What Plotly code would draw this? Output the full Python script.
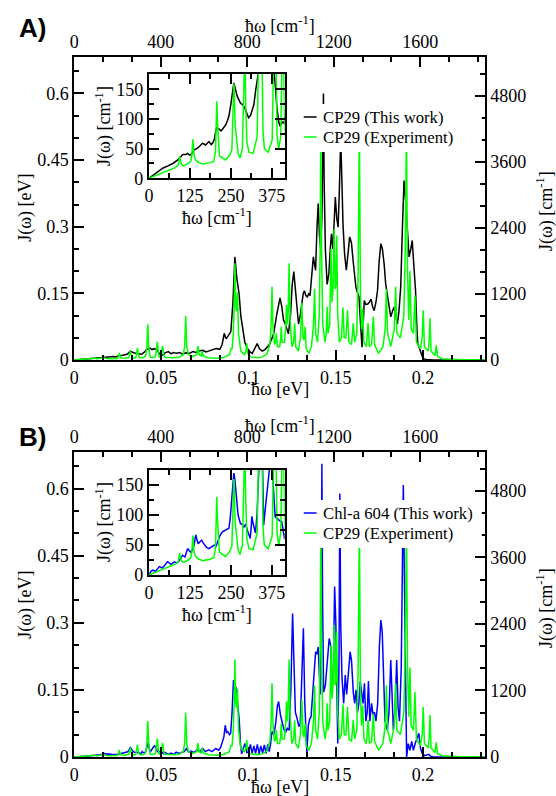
import plotly.graph_objects as go

EV2CM = 8065.54
W, H = 556, 796          # reference frame (pixel positions below are in this frame)
PAGE_H = 806             # figure height on the page (the photo squeezes it to 796)

# ---------------- data ----------------
# low-frequency part (x, y in cm^-1)
exp_low_cm = [(0,0),(40,9),(80,18),(89,22),(92,30),(94,37),(96,30),(100,23),(106,21),(120,25),(128,29),(131,40),(133,58),(134,66),(135,58),(138,38),(142,31),(150,27),(164,24),(185,26),(198,29),(203,45),(205,95),(207,130),(209,95),(212,50),(215,38),(233,31),(245,38),(253,48),(256,100),(258,150),(259,160),(260,150),(263,90),(268,59),(272,42),(278,34),(285,50),(289,140),(291,200),(292,218),(293,200),(295,130),(299,60),(305,44),(318,42),(330,70),(336,250),(339,600),(340,650),(341,600),(344,250),(348,80),(352,50),(364,44),(376,65),(381,230),(383,320),(384,331),(385,320),(387,230),(391,70),(396,50),(402,70),(406,200),(407,240),(408,250),(409,240),(411,200),(414,90)]
cp29_low_cm = [(0,0),(15,6),(30,12),(42,17),(58,21),(73,25),(88,31),(103,40),(113,40),(118,42),(124,39),(130,41),(138,48),(148,51),(156,55),(163,59),(168,58),(173,56),(183,62),(190,57),(195,60),(199,65),(204,80),(207,85),(214,83),(220,80),(226,84),(234,90),(240,98),(244,105),(250,125),(254,145),(259,161),(264,150),(269,139),(279,127),(286,124),(292,119),(298,110),(304,102),(310,106),(314,112),(320,124),(326,150),(333,185),(340,200),(350,215),(360,190),(368,205),(378,200),(385,160),(390,122),(396,95),(400,88),(407,95),(413,93)]
chla_low_cm = [(0,0),(6,6),(12,8),(20,6),(27,11),(32,14),(40,12),(45,14),(52,19),(57,22),(62,20),(67,18),(72,20),(78,22),(84,20),(90,22),(97,28),(103,33),(110,30),(114,38),(118,44),(123,41),(128,38),(133,42),(138,50),(141,62),(143,67),(146,60),(150,52),(155,55),(161,58),(165,54),(170,50),(176,46),(183,44),(190,47),(199,50),(205,48),(210,55),(216,65),(224,72),(230,74),(234,75),(240,77),(244,78),(248,95),(252,120),(256,150),(259,170),(262,160),(265,140),(268,115),(272,100),(279,86),(285,84),(290,80),(295,85),(300,75),(305,68),(309,61),(312,80),(314,98),(317,88),(320,80),(325,70),(330,103),(334,140),(338,200),(342,270),(346,200),(350,83),(353,100),(356,120),(360,150),(363,170),(367,185),(372,200),(376,180),(380,150),(385,97),(390,95),(395,92),(400,90),(405,89),(410,70),(414,60)]
# higher-frequency part (x, y in eV)
exp_hi_ev = [(0.0520,0.0060),(0.0560,0.0050),(0.0600,0.0060),(0.0625,0.012),(0.0633,0.030),(0.0639,0.099),(0.0645,0.030),(0.0655,0.012),(0.0680,0.008),(0.0702,0.012),(0.0709,0.031),(0.0716,0.012),(0.0728,0.009),(0.0734,0.020),(0.0740,0.009),(0.0770,0.005),(0.0820,0.004),(0.0860,0.006),(0.0890,0.012),(0.0898,0.025),(0.0905,0.025),(0.0912,0.060),(0.0917,0.120),(0.0921,0.218),(0.0926,0.120),(0.0931,0.110),(0.0936,0.153),(0.0942,0.060),(0.0955,0.020),(0.0975,0.012),(0.0984,0.018),(0.0989,0.038),(0.0995,0.015),(0.1010,0.007),(0.1050,0.005),(0.1080,0.007),(0.1105,0.014),(0.1122,0.035),(0.1129,0.080),(0.1134,0.165),(0.1139,0.080),(0.1148,0.035),(0.1154,0.040),(0.1159,0.060),(0.1165,0.030),(0.1178,0.030),(0.1183,0.045),(0.1187,0.075),(0.1192,0.040),(0.1205,0.040),(0.1212,0.070),(0.1217,0.124),(0.1222,0.080),(0.1227,0.110),(0.1232,0.218),(0.1238,0.090),(0.1248,0.030),(0.1258,0.040),(0.1264,0.082),(0.1270,0.030),(0.1285,0.020),(0.1297,0.050),(0.1305,0.129),(0.1312,0.050),(0.1318,0.045),(0.1324,0.075),(0.1330,0.025),(0.1345,0.015),(0.1360,0.030),(0.1372,0.080),(0.1378,0.160),(0.1384,0.060),(0.1395,0.040),(0.1405,0.100),(0.1410,0.250),(0.1414,0.530),(0.1418,0.250),(0.1425,0.080),(0.1438,0.040),(0.1445,0.060),(0.1450,0.120),(0.1455,0.060),(0.1465,0.080),(0.1472,0.250),(0.1478,0.130),(0.1484,0.160),(0.1490,0.295),(0.1496,0.160),(0.1500,0.170),(0.1505,0.280),(0.1511,0.100),(0.1520,0.040),(0.1532,0.050),(0.1541,0.118),(0.1548,0.050),(0.1558,0.050),(0.1567,0.112),(0.1575,0.040),(0.1590,0.035),(0.1600,0.083),(0.1608,0.040),(0.1620,0.060),(0.1628,0.200),(0.1635,0.530),(0.1641,0.150),(0.1647,0.070),(0.1654,0.115),(0.1661,0.040),(0.1675,0.030),(0.1685,0.083),(0.1692,0.030),(0.1705,0.035),(0.1715,0.097),(0.1722,0.035),(0.1745,0.015),(0.1770,0.030),(0.1783,0.070),(0.1790,0.160),(0.1797,0.060),(0.1815,0.030),(0.1835,0.070),(0.1843,0.165),(0.1850,0.060),(0.1870,0.050),(0.1890,0.100),(0.1898,0.250),(0.1905,0.530),(0.1911,0.200),(0.1918,0.090),(0.1925,0.200),(0.1932,0.070),(0.1945,0.060),(0.1954,0.145),(0.1962,0.040),(0.1985,0.025),(0.1995,0.050),(0.2001,0.112),(0.2008,0.030),(0.2030,0.020),(0.2036,0.050),(0.2040,0.094),(0.2046,0.020),(0.2068,0.010),(0.2076,0.033),(0.2083,0.008),(0.2110,0.003),(0.2200,0.001),(0.2354,0.0)]
cp29_hi_ev = [(0.0520,0.016),(0.0540,0.019),(0.0555,0.014),(0.0570,0.017),(0.0586,0.015),(0.0605,0.017),(0.0620,0.013),(0.0640,0.016),(0.0662,0.015),(0.0680,0.019),(0.0700,0.017),(0.0720,0.021),(0.0737,0.022),(0.0755,0.018),(0.0770,0.020),(0.0790,0.022),(0.0813,0.026),(0.0835,0.024),(0.0848,0.035),(0.0860,0.060),(0.0870,0.048),(0.0879,0.052),(0.0890,0.058),(0.0898,0.064),(0.0910,0.130),(0.0921,0.232),(0.0932,0.185),(0.0945,0.150),(0.0955,0.100),(0.0964,0.075),(0.0978,0.040),(0.0993,0.026),(0.1008,0.018),(0.1021,0.015),(0.1035,0.025),(0.1049,0.037),(0.1062,0.025),(0.1078,0.020),(0.1095,0.024),(0.1116,0.033),(0.1130,0.045),(0.1144,0.060),(0.1160,0.100),(0.1172,0.130),(0.1180,0.140),(0.1190,0.120),(0.1200,0.090),(0.1210,0.081),(0.1220,0.065),(0.1228,0.059),(0.1240,0.100),(0.1250,0.170),(0.1259,0.199),(0.1268,0.160),(0.1278,0.100),(0.1286,0.081),(0.1296,0.100),(0.1305,0.126),(0.1313,0.150),(0.1320,0.156),(0.1328,0.145),(0.1337,0.142),(0.1345,0.150),(0.1352,0.145),(0.1362,0.190),(0.1371,0.232),(0.1378,0.215),(0.1384,0.202),(0.1392,0.300),(0.1399,0.352),(0.1406,0.280),(0.1413,0.250),(0.1420,0.320),(0.1426,0.450),(0.1429,0.600),(0.1433,0.400),(0.1440,0.250),(0.1450,0.170),(0.1460,0.194),(0.1468,0.250),(0.1475,0.284),(0.1483,0.250),(0.1490,0.300),(0.1497,0.367),(0.1505,0.320),(0.1513,0.299),(0.1520,0.380),(0.1528,0.500),(0.1535,0.400),(0.1541,0.306),(0.1550,0.240),(0.1560,0.202),(0.1570,0.240),(0.1579,0.277),(0.1585,0.270),(0.1590,0.262),(0.1600,0.220),(0.1610,0.180),(0.1615,0.164),(0.1625,0.150),(0.1633,0.142),(0.1642,0.080),(0.1650,0.029),(0.1657,0.080),(0.1663,0.134),(0.1672,0.125),(0.1683,0.126),(0.1692,0.130),(0.1702,0.137),(0.1711,0.120),(0.1720,0.111),(0.1730,0.130),(0.1739,0.156),(0.1748,0.220),(0.1758,0.262),(0.1767,0.250),(0.1777,0.216),(0.1786,0.170),(0.1796,0.142),(0.1805,0.115),(0.1815,0.097),(0.1825,0.110),(0.1834,0.119),(0.1844,0.100),(0.1853,0.081),(0.1862,0.110),(0.1872,0.164),(0.1882,0.300),(0.1891,0.404),(0.1900,0.360),(0.1909,0.306),(0.1915,0.250),(0.1920,0.232),(0.1930,0.250),(0.1938,0.269),(0.1946,0.220),(0.1957,0.157),(0.1964,0.080),(0.1970,0.036),(0.1978,0.028),(0.1985,0.021),(0.1993,0.010),(0.2000,0.003),(0.2020,0.001),(0.2060,0.0),(0.2354,0.0)]
chla_hi_ev = [(0.0520,0.010),(0.0540,0.006),(0.0555,0.009),(0.0570,0.006),(0.0585,0.011),(0.0600,0.008),(0.0615,0.010),(0.0630,0.012),(0.0643,0.019),(0.0656,0.011),(0.0670,0.013),(0.0685,0.010),(0.0705,0.016),(0.0720,0.012),(0.0737,0.019),(0.0752,0.012),(0.0770,0.016),(0.0790,0.012),(0.0812,0.019),(0.0828,0.015),(0.0840,0.022),(0.0850,0.034),(0.0858,0.045),(0.0866,0.071),(0.0873,0.055),(0.0880,0.057),(0.0890,0.050),(0.0897,0.053),(0.0905,0.100),(0.0913,0.172),(0.0920,0.150),(0.0927,0.157),(0.0937,0.110),(0.0946,0.083),(0.0953,0.030),(0.0960,0.007),(0.0970,0.020),(0.0979,0.030),(0.0990,0.010),(0.1000,0.012),(0.1010,0.028),(0.1020,0.008),(0.1030,0.025),(0.1040,0.008),(0.1050,0.028),(0.1060,0.007),(0.1070,0.025),(0.1080,0.009),(0.1090,0.027),(0.1100,0.008),(0.1110,0.028),(0.1118,0.012),(0.1126,0.030),(0.1134,0.057),(0.1145,0.050),(0.1155,0.075),(0.1165,0.115),(0.1172,0.124),(0.1182,0.095),(0.1192,0.075),(0.1202,0.062),(0.1212,0.055),(0.1222,0.064),(0.1232,0.060),(0.1242,0.150),(0.1252,0.321),(0.1260,0.200),(0.1268,0.100),(0.1278,0.086),(0.1288,0.068),(0.1296,0.075),(0.1306,0.200),(0.1314,0.288),(0.1322,0.120),(0.1328,0.040),(0.1334,0.008),(0.1342,0.070),(0.1350,0.085),(0.1358,0.090),(0.1366,0.138),(0.1376,0.200),(0.1384,0.235),(0.1392,0.230),(0.1399,0.246),(0.1406,0.180),(0.1412,0.140),(0.1417,0.350),(0.1420,0.656),(0.1424,0.350),(0.1430,0.145),(0.1440,0.160),(0.1450,0.210),(0.1462,0.265),(0.1470,0.250),(0.1478,0.140),(0.1486,0.200),(0.1493,0.381),(0.1500,0.300),(0.1506,0.100),(0.1511,0.030),(0.1518,0.200),(0.1523,0.589),(0.1528,0.300),(0.1535,0.180),(0.1545,0.120),(0.1554,0.183),(0.1562,0.140),(0.1572,0.180),(0.1582,0.235),(0.1590,0.215),(0.1600,0.145),(0.1608,0.120),(0.1616,0.150),(0.1624,0.100),(0.1632,0.120),(0.1640,0.169),(0.1648,0.140),(0.1656,0.120),(0.1664,0.165),(0.1672,0.080),(0.1680,0.100),(0.1687,0.170),(0.1695,0.080),(0.1705,0.120),(0.1713,0.095),(0.1722,0.100),(0.1730,0.080),(0.1740,0.120),(0.1750,0.250),(0.1758,0.306),(0.1766,0.280),(0.1774,0.170),(0.1782,0.080),(0.1795,0.060),(0.1805,0.100),(0.1815,0.217),(0.1822,0.120),(0.1830,0.060),(0.1840,0.110),(0.1849,0.217),(0.1857,0.110),(0.1865,0.080),(0.1875,0.200),(0.1882,0.400),(0.1887,0.608),(0.1893,0.400),(0.1900,0.150),(0.1906,0.000),(0.1915,0.030),(0.1925,0.015),(0.1935,0.035),(0.1945,0.015),(0.1955,0.030),(0.1968,0.045),(0.1976,0.053),(0.1985,0.020),(0.1995,0.008),(0.2010,0.003),(0.2025,0.004),(0.2033,0.006),(0.2042,0.002),(0.2060,0.0),(0.2354,0.0)]

x_ev_ticks = [0, 0.05, 0.1, 0.15, 0.2]
y_ev_ticks = [0, 0.15, 0.3, 0.45, 0.6]
x_cm_ticks = [0, 400, 800, 1200, 1600]
y_cm_ticks = [0, 1200, 2400, 3600, 4800]
inset_x_ticks = [0, 125, 250, 375]
inset_y_ticks = [0, 50, 100, 150]

label_A1, label_A2 = "CP29 (This work)", "CP29 (Experiment)"
label_B1, label_B2 = "Chl-a 604 (This work)", "CP29 (Experiment)"

XMAX_EV, YMAX_EV = 0.2354, 0.682
INS_XMAX, INS_YMAX = 414, 176


def merge(low_cm, hi_ev):
    xs = [p[0] / EV2CM for p in low_cm] + [p[0] for p in hi_ev]
    ys = [p[1] / EV2CM for p in low_cm] + [p[1] for p in hi_ev]
    return xs, ys


exp_x, exp_y = merge(exp_low_cm, exp_hi_ev)
cp_x, cp_y = merge(cp29_low_cm, cp29_hi_ev)
ch_x, ch_y = merge(chla_low_cm, chla_hi_ev)

GREEN, BLACK, BLUE = "#00ff00", "#000000", "#0000ff"
SERIF = "Liberation Serif, Tinos, Times New Roman, DejaVu Serif, serif"
SANS = "Liberation Sans, Arimo, Arial, DejaVu Sans, sans-serif"
TF = dict(family=SERIF, size=18, color="black")


def hx(px):
    return px / W


def vy(py):
    return 1 - py / H


fig = go.Figure()


def line(x, y, color, xa, ya, scale=1.0):
    fig.add_trace(go.Scatter(x=[v * scale for v in x], y=[v * scale for v in y],
                             mode="lines", line=dict(color=color, width=1.5),
                             xaxis=xa, yaxis=ya, showlegend=False, hoverinfo="skip"))


def dummy(xa, ya):
    fig.add_trace(go.Scatter(x=[None], y=[None], xaxis=xa, yaxis=ya,
                             showlegend=False, hoverinfo="skip"))


# panel A
line(cp_x, cp_y, BLACK, "x", "y")
line(exp_x, exp_y, GREEN, "x", "y")
dummy("x2", "y2")
line(cp_x, cp_y, BLACK, "x3", "y3", EV2CM)
line(exp_x, exp_y, GREEN, "x3", "y3", EV2CM)
# panel B
line(ch_x, ch_y, BLUE, "x4", "y4")
line(exp_x, exp_y, GREEN, "x4", "y4")
dummy("x5", "y5")
line(ch_x, ch_y, BLUE, "x6", "y6", EV2CM)
line(exp_x, exp_y, GREEN, "x6", "y6", EV2CM)


def ax(domain, rng, tickvals, minor_dtick, **kw):
    d = dict(domain=domain, range=rng, tickmode="array", tickvals=tickvals,
             ticks="inside", ticklen=10, tickwidth=1.5, tickcolor="black",
             minor=dict(tickmode="linear", tick0=0, dtick=minor_dtick, ticks="inside",
                        ticklen=5, tickwidth=1.5, tickcolor="black", showgrid=False),
             showline=True, linewidth=2, linecolor="black", showgrid=False,
             zeroline=False, tickfont=TF, fixedrange=True)
    d.update(kw)
    return d


main_xdom = [hx(70), hx(485)]
ins_xdom = [hx(145.5), hx(282.7)]
A_ydom = [vy(360), vy(57)]
B_ydom = [vy(757), vy(452)]
iA_ydom = [vy(178.3), vy(74)]
iB_ydom = [vy(575), vy(469.5)]

layout = dict(width=W, height=PAGE_H, margin=dict(l=0, r=0, t=0, b=0),
              paper_bgcolor="white", plot_bgcolor="white", showlegend=False,
              font=dict(family=SERIF, size=18, color="black"))

for (xa, ya, xt, yr, ydom) in [("xaxis", "yaxis", "xaxis2", "yaxis2", A_ydom),
                               ("xaxis4", "yaxis4", "xaxis5", "yaxis5", B_ydom)]:
    xid = "x" if xa == "xaxis" else "x4"
    yid = "y" if ya == "yaxis" else "y4"
    layout[xa] = ax(main_xdom, [0, XMAX_EV], x_ev_ticks, 0.05 / 3, anchor=yid)
    layout[ya] = ax(ydom, [0, YMAX_EV], y_ev_ticks, 0.05, anchor=xid)
    layout[xt] = ax(main_xdom, [0, XMAX_EV * EV2CM], x_cm_ticks, 400 / 3,
                    overlaying=xid, side="top", anchor=yid)
    layout[yr] = ax(ydom, [0, YMAX_EV * EV2CM], y_cm_ticks, 400,
                    overlaying=yid, side="right", anchor=xid)

for (xa, ya, ydom, xid, yid) in [("xaxis3", "yaxis3", iA_ydom, "x3", "y3"),
                                 ("xaxis6", "yaxis6", iB_ydom, "x6", "y6")]:
    layout[xa] = ax(ins_xdom, [0, INS_XMAX], inset_x_ticks, 125 / 2, anchor=yid,
                    mirror="allticks")
    layout[ya] = ax(ydom, [0, INS_YMAX], inset_y_ticks, 25, anchor=xid,
                    mirror="allticks")

fig.update_layout(**layout)

ann = []
shapes = []


def text(px, py, s, size=18, angle=0, xanchor="center", family=SERIF):
    ann.append(dict(x=hx(px), y=vy(py), xref="paper", yref="paper", text=s,
                    showarrow=False, textangle=angle, xanchor=xanchor, yanchor="middle",
                    font=dict(family=family, size=size, color="black")))


CM = "ħω [cm<sup>-1</sup>]"
text(277.5, 25, CM)
text(277.5, 424, CM)
text(278, 389, "ħω [eV]")
text(278, 787, "ħω [eV]")
text(20, 208, "J(ω) [eV]", angle=-90)
text(20, 605, "J(ω) [eV]", angle=-90)
text(546, 211, "J(ω) [cm<sup>-1</sup>]", angle=-90)
text(546, 608, "J(ω) [cm<sup>-1</sup>]", angle=-90)
text(214, 216, CM)
text(100, 126, "J(ω) [cm<sup>-1</sup>]", angle=-90)
text(214, 613, CM)
text(100, 522, "J(ω) [cm<sup>-1</sup>]", angle=-90)
text(28, 28, "<b>A)</b>", size=26, family=SANS)
text(28, 437, "<b>B)</b>", size=26, family=SANS)

# manual legends (white box over the curves)
for (top, c1, l1, l2) in [(104, BLACK, label_A1, label_A2), (500, BLUE, label_B1, label_B2)]:
    shapes.append(dict(type="rect", xref="paper", yref="paper", x0=hx(298), x1=hx(482),
                       y0=vy(top + 48), y1=vy(top), fillcolor="white", line=dict(width=0),
                       layer="above"))
    for (dy, col, lab) in [(13, c1, l1), (33, GREEN, l2)]:
        shapes.append(dict(type="line", xref="paper", yref="paper", x0=hx(302), x1=hx(315),
                           y0=vy(top + dy), y1=vy(top + dy), line=dict(color=col, width=1.5),
                           layer="above"))
        text(319, top + dy, lab, size=16.7, xanchor="left")

fig.update_layout(annotations=ann, shapes=shapes)
fig.write_html("out.html")
